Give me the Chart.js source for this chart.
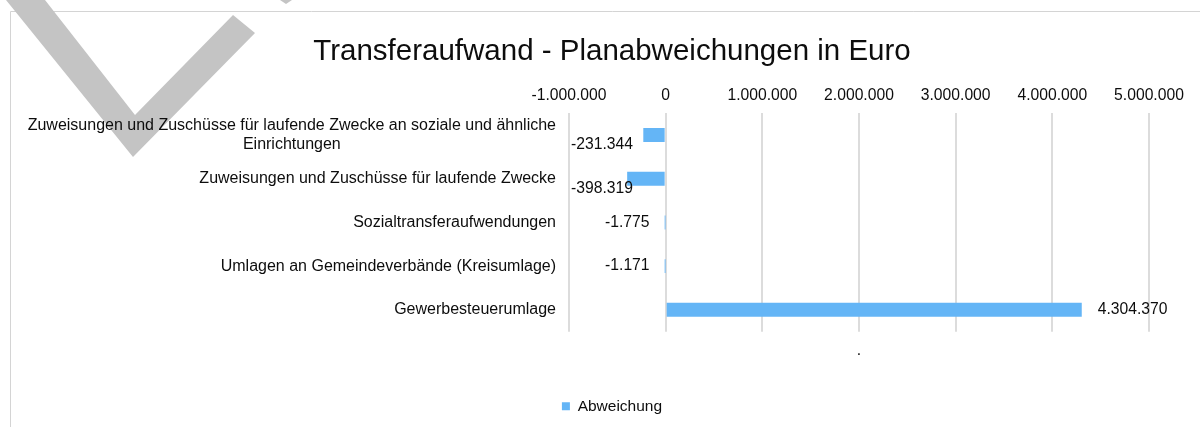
<!DOCTYPE html>
<html>
<head>
<meta charset="utf-8">
<script src="https://cdn.jsdelivr.net/npm/chart.js@4"></script>
<style>
  html, body { margin: 0; padding: 0; background: #fff; overflow: hidden; }
  #chart { position: absolute; left: 0; top: 0; }
</style>
</head>
<body>
<canvas id="chart" width="1214" height="427"></canvas>
<script>
const categories = [
  ["Zuweisungen und Zuschüsse für laufende Zwecke an soziale und ähnliche", "Einrichtungen"],
  "Zuweisungen und Zuschüsse für laufende Zwecke",
  "Sozialtransferaufwendungen",
  "Umlagen an Gemeindeverbände (Kreisumlage)",
  "Gewerbesteuerumlage",
];
const values = [-231344, -398319, -1775, -1171, 4304370];
const seriesLabel = "Abweichung";
const chartTitle = "Transferaufwand - Planabweichungen in Euro";
const axisMin = -1000000;
const axisMax = 5000000;
const axisStep = 1000000;

const fontFamily = '"Liberation Sans", Arial, sans-serif';
const textColor = "#0d0d0d";
const barColor = "#64b5f6";

Chart.defaults.font.family = fontFamily;
Chart.defaults.color = textColor;

const formatDe = (n) => {
  const s = Math.abs(Math.round(n))
    .toString()
    .replace(/\B(?=(\d{3})+(?!\d))/g, ".");
  return (n < 0 ? "-" : "") + s;
};

// frame line and the grey watermark behind everything
const backgroundPlugin = {
  id: "background",
  beforeDraw: (chart) => {
    const ctx = chart.ctx;
    ctx.save();
    ctx.fillStyle = "#fff";
    ctx.fillRect(0, 0, chart.width, chart.height);

    ctx.strokeStyle = "#d4d4d4";
    ctx.lineWidth = 1;
    ctx.beginPath();
    ctx.moveTo(10.5, chart.height);
    ctx.lineTo(10.5, 11.5);
    ctx.lineTo(chart.width, 11.5);
    ctx.stroke();

    ctx.fillStyle = "#c4c4c4";
    ctx.beginPath();
    ctx.moveTo(6, 0);
    ctx.lineTo(45, 0);
    ctx.lineTo(135, 115);
    ctx.lineTo(233, 15);
    ctx.lineTo(255, 33);
    ctx.lineTo(133, 157);
    ctx.closePath();
    ctx.fill();

    ctx.beginPath();
    ctx.moveTo(280, 0);
    ctx.lineTo(292, 0);
    ctx.lineTo(286, 4);
    ctx.closePath();
    ctx.fill();
    ctx.restore();
  },
};

// category labels: block right aligned, lines centred inside the block
const categoryLabelsPlugin = {
  id: "categoryLabels",
  afterDraw: (chart) => {
    const ctx = chart.ctx;
    const yScale = chart.scales.y;
    const right = chart.chartArea.left - 13;
    const lineHeight = 18.5;

    ctx.save();
    ctx.font = `16px ${fontFamily}`;
    ctx.fillStyle = textColor;
    ctx.textAlign = "center";
    ctx.textBaseline = "middle";

    categories.forEach((cat, i) => {
      const lines = Array.isArray(cat) ? cat : [cat];
      const blockWidth = Math.max(...lines.map((l) => ctx.measureText(l).width));
      const cy = yScale.getPixelForValue(i);
      lines.forEach((line, j) => {
        const dy = (j - (lines.length - 1) / 2) * lineHeight;
        ctx.fillText(line, right - blockWidth / 2, cy + dy);
      });
    });
    ctx.restore();
  },
};

// value labels at the outside end of each bar
const dataLabelsPlugin = {
  id: "dataLabels",
  afterDatasetsDraw: (chart) => {
    const ctx = chart.ctx;
    const area = chart.chartArea;
    const meta = chart.getDatasetMeta(0);

    ctx.save();
    ctx.font = `15.7px ${fontFamily}`;
    ctx.fillStyle = textColor;
    ctx.textAlign = "left";
    ctx.textBaseline = "middle";

    meta.data.forEach((bar, i) => {
      const value = values[i];
      const text = formatDe(value);
      const w = ctx.measureText(text).width;
      let x;
      let y = bar.y;
      if (value >= 0) {
        x = bar.x + 16;
      } else {
        x = bar.x - 16 - w;
        if (x < area.left + 2) {
          x = area.left + 2;
          y += 10;
        }
      }
      ctx.fillText(text, x, y);
    });
    ctx.restore();
  },
};

new Chart(document.getElementById("chart"), {
  type: "bar",
  data: {
    labels: categories,
    datasets: [
      {
        label: seriesLabel,
        data: values,
        backgroundColor: barColor,
        borderWidth: 0,
        barPercentage: 0.32,
        categoryPercentage: 1,
      },
    ],
  },
  options: {
    responsive: false,
    animation: false,
    indexAxis: "y",
    layout: {
      padding: { left: 10, top: 11, right: 0, bottom: 3 },
    },
    plugins: {
      title: {
        display: true,
        text: chartTitle,
        color: textColor,
        font: { size: 29.5, weight: "normal" },
        padding: { top: 23, bottom: 9 },
      },
      legend: {
        position: "bottom",
        labels: {
          boxWidth: 8,
          boxHeight: 8,
          font: { size: 15.5 },
          padding: 10,
        },
      },
      tooltip: { enabled: false },
    },
    scales: {
      x: {
        position: "top",
        min: axisMin,
        max: axisMax,
        grid: { color: "#dcdcdc", lineWidth: 2, drawTicks: false },
        border: { display: false },
        ticks: {
          stepSize: axisStep,
          padding: 8,
          font: { size: 15.7 },
          callback: (v) => formatDe(v),
        },
      },
      x2: {
        type: "linear",
        position: "bottom",
        grid: { display: false },
        border: { display: false },
        ticks: { display: false },
        title: {
          display: true,
          text: ".",
          font: { size: 15.7 },
          padding: { top: 2, bottom: 28 },
        },
      },
      y: {
        grid: { display: false },
        border: { display: false },
        ticks: { display: false },
        afterFit: (scale) => {
          scale.width = 559;
        },
      },
      yRight: {
        type: "linear",
        position: "right",
        grid: { display: false },
        border: { display: false },
        ticks: { display: false },
        afterFit: (scale) => {
          scale.width = 65;
        },
      },
    },
  },
  plugins: [backgroundPlugin, categoryLabelsPlugin, dataLabelsPlugin],
});
</script>
</body>
</html>
